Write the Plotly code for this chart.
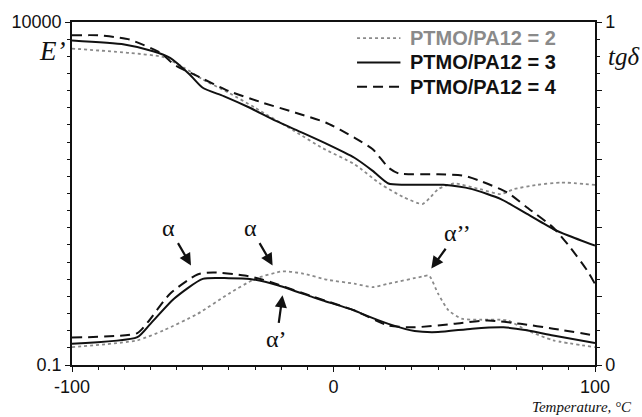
import plotly.graph_objects as go

# Storage modulus E' (log scale) versus temperature, one list per composition
t_e2 = [-100, -78, -65, -57, -50, -40, -30, -15, -4, 8, 18, 27, 34, 37, 40, 46, 56, 64, 69, 78, 87, 100]
e_2 = [4100, 3540, 3070, 2140, 1455, 929, 562, 258, 144, 84.5, 43.4, 27.7, 22.2, 27.7, 36.6, 44.2, 36.6, 31, 36.6, 42.3, 45.7, 42.3]

t_e3 = [-100, -80, -69, -62.5, -55, -50, -42, -32, -22, -12, -3, 8, 15, 21, 27, 42, 53, 64, 74, 84, 90, 100]
e_3 = [5370, 4700, 3750, 3000, 1720, 1100, 832, 562, 361, 244, 170, 105, 67.6, 44.2, 42.3, 42.3, 36.6, 26.2, 15.9, 9.6, 7.67, 5.5]

t_e4 = [-100, -90, -84, -78, -66, -61, -52, -40, -27, -14.5, -3, 8, 15, 21, 25, 40, 50, 56, 66.5, 74, 84, 90.5, 97, 100]
e_4 = [6410, 6410, 6050, 5550, 3540, 2400, 1625, 984, 665, 476, 343, 206, 140, 75.5, 61.8, 60.5, 57.2, 48.4, 32.7, 19.8, 10.1, 5.19, 2.38, 1.52]

# Loss tangent tg(delta) versus temperature
t_d2 = [-100, -75, -65, -52, -40, -30, -19.5, -12, -2, 8, 15, 21, 34, 36.5, 40, 44, 49, 56, 66.5, 74, 84, 100]
d_2 = [0.052, 0.072, 0.101, 0.149, 0.208, 0.251, 0.273, 0.267, 0.248, 0.237, 0.227, 0.237, 0.258, 0.261, 0.208, 0.159, 0.135, 0.132, 0.130, 0.101, 0.072, 0.052]

t_d3 = [-100, -75, -70, -61, -50, -40, -32, -21, -8, -4, 8, 11, 21, 31, 40, 53, 65, 74, 84, 100]
d_3 = [0.062, 0.081, 0.120, 0.193, 0.251, 0.253, 0.251, 0.232, 0.198, 0.188, 0.159, 0.149, 0.120, 0.099, 0.096, 0.106, 0.110, 0.101, 0.086, 0.064]

t_d4 = [-100, -75, -71, -62.5, -52, -46, -34, -27, -21, -8, -4, 8, 21, 31, 46, 59, 71.5, 84, 100]
d_4 = [0.080, 0.093, 0.125, 0.208, 0.264, 0.270, 0.261, 0.249, 0.234, 0.200, 0.190, 0.159, 0.115, 0.110, 0.120, 0.130, 0.120, 0.106, 0.086]

series_names = ["PTMO/PA12 = 2", "PTMO/PA12 = 3", "PTMO/PA12 = 4"]
x_ticks = [-100, 0, 100]
e_ticks = [0.1, 1, 10, 100, 1000, 10000]
e_labels = ["0.1", "", "", "", "", "10000"]
d_ticks = [0, 0.2, 0.4, 0.6, 0.8, 1]
d_labels = ["0", "", "", "", "", "1"]

GRAY = "#8a8a8a"
BLACK = "#111111"
styles = [
    dict(color=GRAY, width=1.8, dash="dot"),
    dict(color=BLACK, width=2.0, dash="solid"),
    dict(color=BLACK, width=2.0, dash="10px,6px"),
]

fig = go.Figure()
for tx, ev, st in zip([t_e2, t_e3, t_e4], [e_2, e_3, e_4], styles):
    fig.add_trace(go.Scatter(x=tx, y=ev, mode="lines", yaxis="y",
                             line=dict(shape="spline", smoothing=0.6, **st),
                             showlegend=False, hoverinfo="skip"))
for tx, dv, st in zip([t_d2, t_d3, t_d4], [d_2, d_3, d_4], styles):
    fig.add_trace(go.Scatter(x=tx, y=dv, mode="lines", yaxis="y2",
                             line=dict(shape="spline", smoothing=0.6, **st),
                             showlegend=False, hoverinfo="skip"))

tick_font = dict(family="Liberation Sans, Arial", size=18, color=BLACK)
# quarter-decade minor ticks on the modulus axis
e_minor = [10 ** (k / 4 - 1) for k in range(21)]

fig.update_layout(
    width=642, height=417,
    margin=dict(l=68, r=47, t=21, b=52),
    paper_bgcolor="white", plot_bgcolor="white",
    xaxis=dict(range=[-100, 100], tickvals=x_ticks, ticktext=[str(v) for v in x_ticks],
               showline=True, linecolor=BLACK, linewidth=1.5, mirror=True,
               ticks="outside", ticklen=5, tickcolor=BLACK, tickwidth=1.2,
               minor=dict(dtick=10, ticks="outside", ticklen=3, tickcolor=BLACK),
               showgrid=False, zeroline=False, tickfont=tick_font),
    yaxis=dict(type="log", range=[-1, 4], tickvals=e_ticks, ticktext=e_labels,
               showline=True, linecolor=BLACK, linewidth=1.5,
               ticks="outside", ticklen=5, tickcolor=BLACK, tickwidth=1.2,
               minor=dict(tickvals=e_minor, ticks="outside", ticklen=3, tickcolor=BLACK),
               showgrid=False, zeroline=False, tickfont=tick_font),
    yaxis2=dict(overlaying="y", side="right", range=[0, 1], tickvals=d_ticks, ticktext=d_labels,
                showline=True, linecolor=BLACK, linewidth=1.5,
                ticks="outside", ticklen=5, tickcolor=BLACK, tickwidth=1.2,
                minor=dict(dtick=0.05, ticks="outside", ticklen=3, tickcolor=BLACK),
                showgrid=False, zeroline=False, tickfont=tick_font),
)

serif = "Liberation Serif, Times New Roman"
ann = []
ann.append(dict(text="<i>E’</i>", xref="paper", yref="paper", x=-0.038, y=0.915,
                showarrow=False, xanchor="center", yanchor="middle",
                font=dict(size=27, family=serif, color=BLACK)))
ann.append(dict(text="<i>tgδ</i>", xref="paper", yref="paper", x=1.055, y=0.90,
                showarrow=False, xanchor="center", yanchor="middle",
                font=dict(size=25, family=serif, color=BLACK)))
ann.append(dict(text="<i>Temperature, °C</i>", xref="paper", yref="paper", x=1.075, y=-0.123,
                showarrow=False, xanchor="right", yanchor="middle",
                font=dict(size=15, family=serif, color=BLACK)))

# Relaxation labels with arrows pointing at the tg(delta) curves
arrows = [("α", -54.5, 0.290, -22, -38), ("α", -23.3, 0.290, -22, -38),
          ("α’", -19.5, 0.203, -6, 44), ("α’’", 37.4, 0.281, 26, -36)]
for txt, xv, yv, axv, ayv in arrows:
    ann.append(dict(text=txt, x=xv, y=yv, xref="x", yref="y2", ax=axv, ay=ayv,
                    showarrow=True, arrowhead=2, arrowsize=1.1, arrowwidth=2.2,
                    arrowcolor=BLACK, standoff=0, startstandoff=2,
                    font=dict(size=24, family=serif, color=BLACK)))

# Legend: sample line plus bold label per composition
leg_rows = [0.953, 0.882, 0.811]
leg_colors = [GRAY, BLACK, BLACK]
shapes = []
for name, yy, col, st in zip(series_names, leg_rows, leg_colors, styles):
    shapes.append(dict(type="line", xref="paper", yref="paper", x0=0.545, x1=0.628, y0=yy, y1=yy,
                       line=dict(color=st["color"], width=st["width"], dash=st["dash"])))
    ann.append(dict(text="<b>" + name + "</b>", xref="paper", yref="paper", x=0.643, y=yy,
                    xanchor="left", yanchor="middle", showarrow=False,
                    font=dict(family="Liberation Sans, Arial", size=20, color=col)))

fig.update_layout(annotations=ann, shapes=shapes)
fig.write_html("out.html")
